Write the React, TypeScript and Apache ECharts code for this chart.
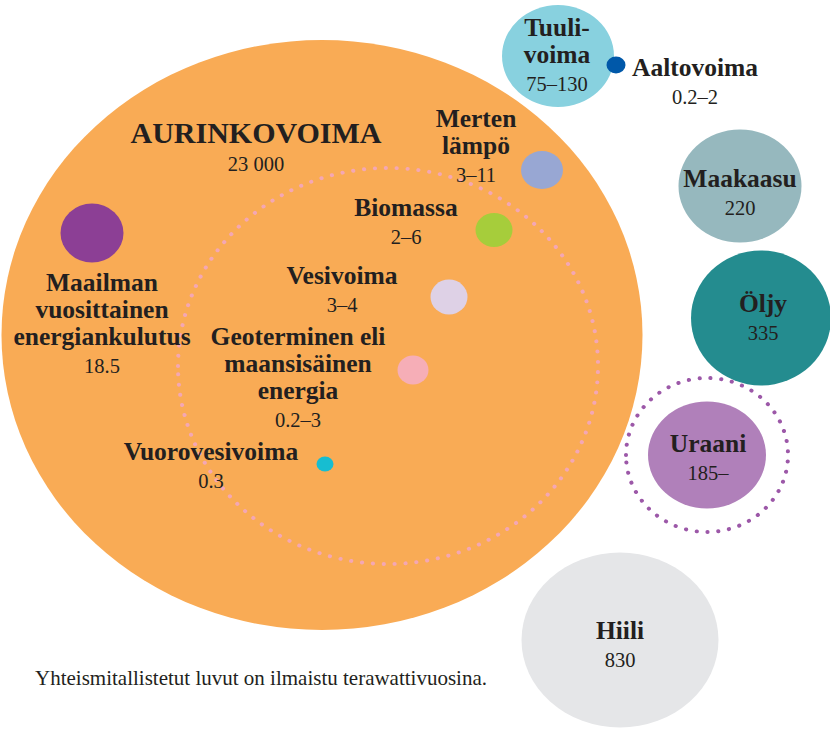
import React, { useEffect, useRef } from "react";
import * as echarts from "echarts";

// ---- data ----
const bubbleNames = [
  "Aurinkovoima", "Maailman vuosittainen energiankulutus", "Merten lämpö", "Biomassa",
  "Vesivoima", "Geoterminen eli maansisäinen energia", "Vuorovesivoima",
  "Tuulivoima", "Aaltovoima", "Maakaasu", "Öljy", "Uraani", "Hiili",
];
const bubbleX = [322, 92, 542, 494, 449, 413, 325, 558, 616, 740, 761, 707, 620];
const bubbleY = [335, 233, 170, 230, 297, 370, 464, 56, 65, 186, 318, 455, 640];
const bubbleW = [641, 63, 42, 37, 37, 31, 17, 112, 19, 123, 140, 118, 197];
const bubbleH = [590, 59, 38, 34, 35, 29, 15, 102, 17, 113, 135, 107, 175];
const bubbleColors = [
  "#F9AB55", "#8C3F95", "#98A7D3", "#A6CD3B", "#DED1E6", "#F6AEB7", "#17BDD1",
  "#88D1DF", "#0058A9", "#96B8BE", "#248C8F", "#B080BA", "#E5E6E8",
];

const ringNames = ["Uusiutuvat", "Uraani (ml. hyötöreaktorit)"];
const ringX = [388, 707];
const ringY = [366, 455];
const ringW = [420, 162];
const ringH = [396, 154];
const ringColors = ["#F4A7B4", "#9C58A8"];

const labelNames = [
  ["AURINKOVOIMA"], ["Merten", "lämpö"], ["Tuuli-", "voima"], ["Aaltovoima"],
  ["Maakaasu"], ["Biomassa"], ["Vesivoima"], ["Geoterminen eli", "maansisäinen", "energia"],
  ["Maailman", "vuosittainen", "energiankulutus"], ["Vuorovesivoima"], ["Öljy"], ["Uraani"], ["Hiili"],
];
const labelValues = [
  "23 000", "3–11", "75–130", "0.2–2", "220", "2–6", "3–4", "0.2–3", "18.5", "0.3", "335", "185–", "830",
];
const labelX = [256, 476, 557, 695, 740, 406, 342, 298, 102, 211, 763, 708, 620];
const labelY = [116, 105, 14, 54, 165, 194, 262, 323, 269, 438, 290, 430, 617];

const note = "Yhteismitallistetut luvut on ilmaistu terawattivuosina.";

const ELLIPSE = "path://M0,50 A50,50 0 1,1 100,50 A50,50 0 1,1 0,50 Z";
const FONT = "Liberation Serif";
const INK = "#231F20";

export default function App() {
  const ref = useRef<HTMLDivElement>(null);
  useEffect(() => {
    if (!ref.current) return;
    const chart = echarts.init(ref.current, null, { renderer: "svg" });

    const bubbles = bubbleNames.map((n, i) => ({
      name: n,
      value: [bubbleX[i], bubbleY[i]],
      symbolSize: [bubbleW[i], bubbleH[i]],
      itemStyle: { color: bubbleColors[i], opacity: 1 },
    }));
    const rings = ringNames.map((n, i) => ({
      name: n,
      value: [ringX[i], ringY[i]],
      symbolSize: [ringW[i], ringH[i]],
      itemStyle: {
        color: "rgba(0,0,0,0)",
        opacity: 1,
        borderColor: ringColors[i],
        borderWidth: 4,
        borderType: [0.1, 10.5],
        borderCap: "round",
      },
    }));
    const labels = labelNames.map((lines, i) => {
      const key = i === 0 ? "b" : "n";
      return {
        name: lines.join(" "),
        value: [labelX[i], labelY[i]],
        label: {
          formatter:
            lines.map((l) => `{${key}|${l}}`).join("\n") + `\n{v|${labelValues[i]}}`,
        },
      };
    });

    chart.setOption({
      animation: false,
      textStyle: { fontFamily: FONT },
      title: {
        text: note,
        left: 35,
        top: 667,
        padding: 0,
        textStyle: { fontFamily: FONT, fontSize: 21, fontWeight: "normal", color: INK },
      },
      grid: { left: 0, right: 0, top: 0, bottom: 0 },
      xAxis: { type: "value", min: 0, max: 830, show: false },
      yAxis: { type: "value", min: 0, max: 730, inverse: true, show: false },
      series: [
        {
          type: "scatter",
          silent: true,
          clip: false,
          symbol: ELLIPSE,
          itemStyle: { opacity: 1 },
          data: bubbles,
          z: 1,
        },
        {
          type: "scatter",
          silent: true,
          clip: false,
          symbol: ELLIPSE,
          itemStyle: { opacity: 1 },
          data: rings,
          z: 2,
        },
        {
          type: "scatter",
          silent: true,
          clip: false,
          symbolSize: 0,
          itemStyle: { color: "rgba(0,0,0,0)", opacity: 1 },
          data: labels,
          z: 3,
          label: {
            show: true,
            position: "bottom",
            distance: 0,
            align: "center",
            verticalAlign: "top",
            color: INK,
            opacity: 1,
            fontFamily: FONT,
            rich: {
              b: { fontFamily: FONT, fontSize: 30, fontWeight: "bold", lineHeight: 32, color: INK },
              n: { fontFamily: FONT, fontSize: 25.5, fontWeight: "bold", lineHeight: 27, color: INK },
              v: { fontFamily: FONT, fontSize: 20.5, fontWeight: "normal", lineHeight: 32, color: INK },
            },
          },
        },
      ],
    });
    return () => chart.dispose();
  }, []);
  return (
    <div
      ref={ref}
      style={{ position: "fixed", left: 0, top: 0, width: 830, height: 730, background: "#fff" }}
    />
  );
}
